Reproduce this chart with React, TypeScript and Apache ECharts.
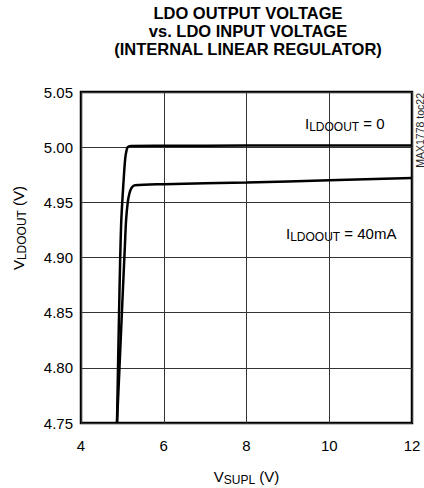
import React, { useEffect, useRef } from "react";
import * as echarts from "echarts";

const titleLines = ["LDO OUTPUT VOLTAGE", "vs. LDO INPUT VOLTAGE", "(INTERNAL LINEAR REGULATOR)"];
const xTicks = [4, 6, 8, 10, 12];
const yTicks = [4.75, 4.8, 4.85, 4.9, 4.95, 5.0, 5.05];

// V_SUPL (V), V_LDOOUT (V)
const noLoadX = [4.87, 4.92, 4.97, 5.03, 5.07, 5.1, 5.13, 5.2, 6, 8, 10, 12];
const noLoadY = [4.75, 4.85, 4.93, 4.97, 4.99, 4.997, 5.0, 5.001, 5.0012, 5.0015, 5.0015, 5.0015];
const load40X = [4.87, 4.93, 5.0, 5.06, 5.09, 5.13, 5.17, 5.22, 5.3, 6, 8, 10, 12];
const load40Y = [4.75, 4.8, 4.86, 4.91, 4.934, 4.95, 4.958, 4.963, 4.9655, 4.9665, 4.968, 4.97, 4.972];

const toPairs = (xs: number[], ys: number[]) => xs.map((x, i) => [x, ys[i]]);

const FONT = "Liberation Sans, Arial";
const sub = {
  base: { fontSize: 15, fontFamily: FONT, color: "#000" },
  s: { fontSize: 12, fontFamily: FONT, color: "#000", padding: [7, 0, 0, 0] },
};

export default function App() {
  const ref = useRef<HTMLDivElement>(null);
  useEffect(() => {
    const chart = echarts.init(ref.current!, null, { renderer: "svg" });
    chart.setOption({
      animation: false,
      backgroundColor: "#fff",
      textStyle: { fontFamily: FONT },
      grid: {
        left: 81,
        top: 92,
        width: 331,
        height: 331,
        show: true,
        borderColor: "#000",
        borderWidth: 2.5,
        outerBoundsMode: "none",
        containLabel: false,
      },
      xAxis: {
        type: "value",
        min: 4,
        max: 12,
        interval: 2,
        axisLine: { show: false },
        axisTick: { show: false },
        axisLabel: { color: "#000", fontSize: 15, margin: 15, fontFamily: FONT },
        splitLine: { show: true, lineStyle: { color: "#333", width: 1 } },
        name: "{base|V}{s|SUPL}{base| (V)}",
        nameLocation: "middle",
        nameGap: 44,
        nameTextStyle: { rich: sub },
      },
      yAxis: {
        type: "value",
        min: 4.75,
        max: 5.05,
        interval: 0.05,
        axisLine: { show: false },
        axisTick: { show: false },
        axisLabel: {
          color: "#000",
          fontSize: 15,
          margin: 8,
          fontFamily: FONT,
          formatter: (v: number) => v.toFixed(2),
        },
        splitLine: { show: true, lineStyle: { color: "#333", width: 1 } },
      },
      graphic: [
        ...titleLines.map((t, i) => ({
          type: "text",
          x: 248,
          y: 4 + i * 18,
          style: {
            text: t,
            fill: "#000",
            font: "bold 16.5px 'Liberation Sans', Arial",
            textAlign: "center",
          },
        })),
        {
          type: "text",
          x: 18,
          y: 228,
          rotation: Math.PI / 2,
          style: {
            text: "{base|V}{s|LDOOUT}{base| (V)}",
            rich: sub,
            textAlign: "center",
            textVerticalAlign: "middle",
          },
        },
        {
          type: "text",
          x: 305,
          y: 114,
          style: {
            text: "{base|I}{s|LDOOUT}{base| = 0}",
            rich: sub,
          },
        },
        {
          type: "text",
          x: 286,
          y: 224,
          style: {
            text: "{base|I}{s|LDOOUT}{base| = 40mA}",
            rich: sub,
          },
        },
        {
          type: "text",
          x: 414,
          y: 93,
          rotation: Math.PI / 2,
          style: {
            text: "MAX1778 toc22",
            fill: "#222",
            font: "10.5px 'Liberation Sans', Arial",
            textAlign: "right",
          },
        },
      ],
      series: [
        {
          type: "line",
          data: toPairs(noLoadX, noLoadY),
          showSymbol: false,
          smooth: 0.3,
          lineStyle: { color: "#000", width: 2.5 },
          silent: true,
        },
        {
          type: "line",
          data: toPairs(load40X, load40Y),
          showSymbol: false,
          smooth: 0.3,
          lineStyle: { color: "#000", width: 2.5 },
          silent: true,
        },
      ],
    });
    return () => chart.dispose();
  }, []);
  return <div ref={ref} style={{ position: "fixed", left: 0, top: 0, width: 424, height: 488 }} />;
}
